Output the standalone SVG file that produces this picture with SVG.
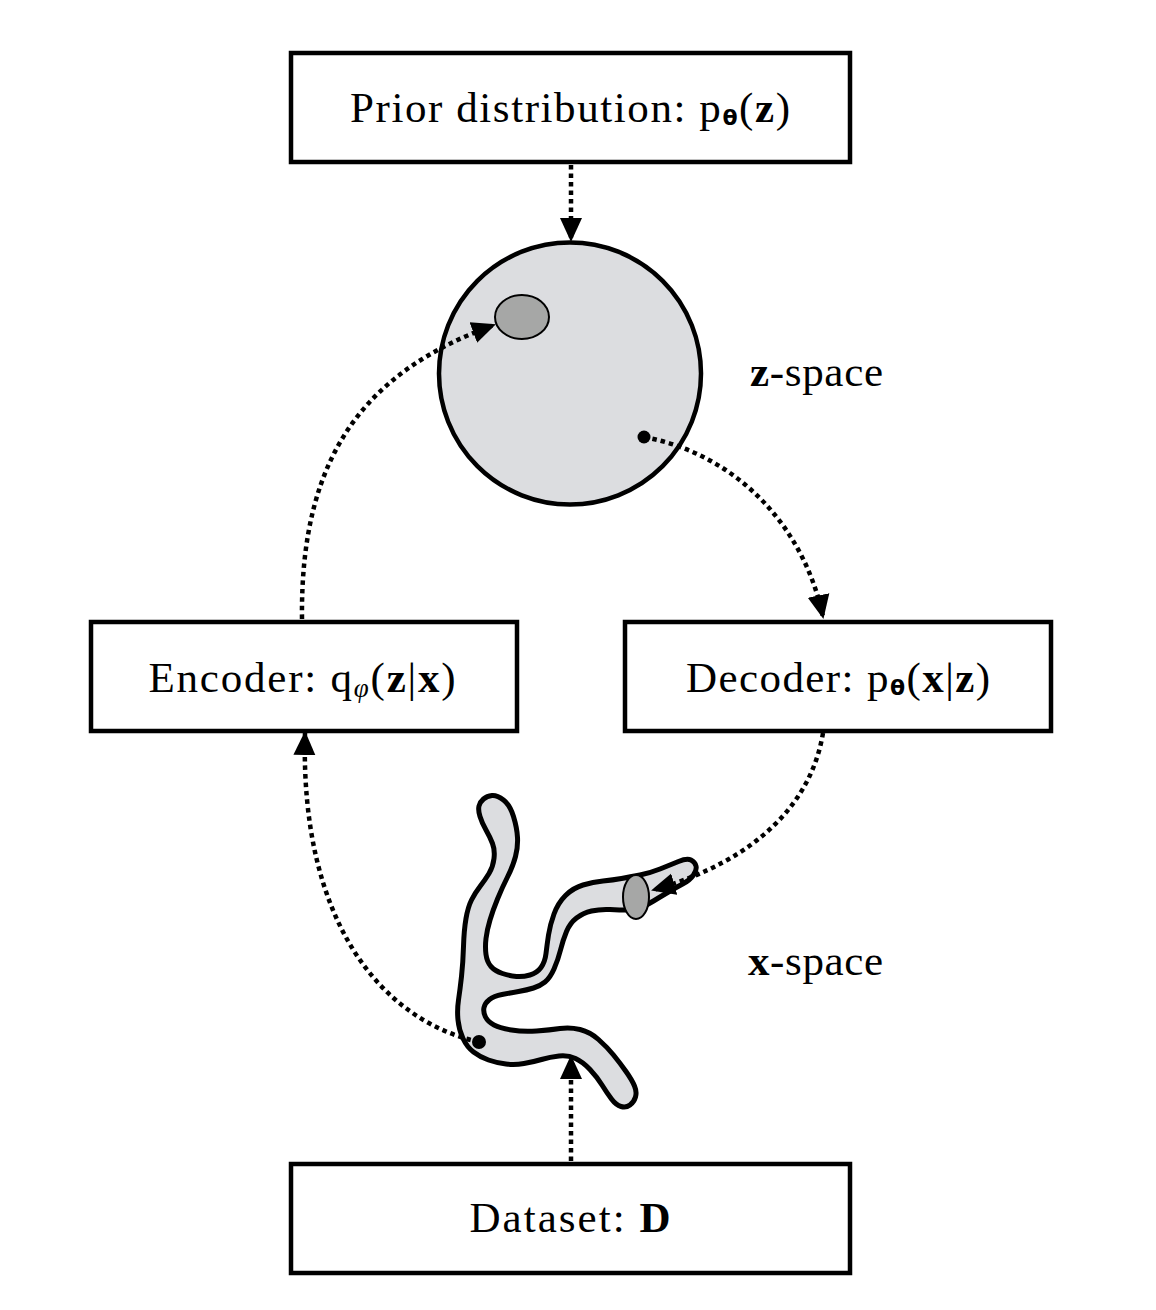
<svg xmlns="http://www.w3.org/2000/svg" width="1156" height="1310" viewBox="0 0 1156 1310">
<style>
.box{fill:#fff;stroke:#000;stroke-width:4.5}
.lbl{font-family:"Liberation Serif","DejaVu Serif",serif;font-size:43px;fill:#000}
.b{font-weight:bold}
.sub{font-family:"DejaVu Sans","Liberation Sans",sans-serif;font-weight:bold;font-size:22px}
.phi{font-family:"Liberation Serif","DejaVu Serif",serif;font-style:italic;font-size:27px}
.dot{fill:none;stroke:#000;stroke-width:4.5;stroke-dasharray:4.5 4;marker-end:url(#ah)}
</style>
<defs>
<marker id="ah" markerUnits="userSpaceOnUse" markerWidth="24" markerHeight="24" viewBox="0 0 24 24" refX="22" refY="12" orient="auto">
<path d="M0,1 L24,12 L0,23 z" fill="#000"/>
</marker>
</defs>
<rect width="1156" height="1310" fill="#fff"/>

<g id="prior">
<rect class="box" x="291" y="53" width="559" height="109"/>
<text class="lbl" x="570" y="122" text-anchor="middle" textLength="440">Prior distribution: p<tspan class="sub" dy="3">θ</tspan><tspan dy="-3">(</tspan><tspan class="b">z</tspan>)</text>
</g>

<g id="zspace">
<circle cx="570" cy="373.5" r="131" fill="#dcdde0" stroke="#000" stroke-width="4.5"/>
<ellipse cx="522" cy="317" rx="27" ry="22" fill="#a6a7a6" stroke="#000" stroke-width="2"/>
<circle cx="644" cy="437" r="6.5" fill="#000"/>
<text class="lbl" x="750" y="386" textLength="133"><tspan class="b">z</tspan>-space</text>
</g>

<g id="encoder">
<rect class="box" x="91" y="622" width="426" height="109"/>
<text class="lbl" x="302" y="692" text-anchor="middle" textLength="307">Encoder: q<tspan class="phi" dy="5">φ</tspan><tspan dy="-5">(</tspan><tspan class="b">z</tspan>|<tspan class="b">x</tspan>)</text>
</g>

<g id="decoder">
<rect class="box" x="625" y="622" width="426" height="109"/>
<text class="lbl" x="838" y="692" text-anchor="middle" textLength="304">Decoder: p<tspan class="sub" dy="3">θ</tspan><tspan dy="-3">(</tspan><tspan class="b">x</tspan>|<tspan class="b">z</tspan>)</text>
</g>

<g id="xspace">
<g id="worm">
<path fill="#dcdde0" stroke="#000" stroke-width="5" stroke-linejoin="round" d="M492,795.5 Q497,795 503.5,800 Q510,805 513.5,816.5 Q517,828 517.5,837.5 Q518,847 515.5,856.5 Q513,866 507.5,877 Q502,888 497.5,899 Q493,910 490,920 Q487,930 486,938.5 Q485,947 486,954.5 Q487,962 491,966.5 Q495,971 502.5,973.5 Q510,976 516.5,976.5 Q523,977 530,975 Q537,973 541,967.5 Q545,962 546,953.5 Q547,945 548.5,935 Q550,925 554,914 Q558,903 565.5,895.5 Q573,888 583,885 Q593,882 603,881 Q613,880 621.5,878.5 Q630,877 640,875 Q650,873 660,869 Q670,865 678.5,861.5 Q687,858 691,860 Q695,862 696,866 Q697,870 693.5,875 Q690,880 683.5,883.5 Q677,887 668.5,892 Q660,897 653.5,901 Q647,905 641,907.5 Q635,910 627.5,910 Q620,910 610,909.5 Q600,909 591.5,911 Q583,913 576.5,918 Q570,923 566.5,931.5 Q563,940 560.5,950 Q558,960 554,969 Q550,978 545,982 Q540,986 533.5,988 Q527,990 518.5,991.5 Q510,993 502,994.5 Q494,996 489.5,999.5 Q485,1003 484,1007.5 Q483,1012 485.5,1017 Q488,1022 494,1025 Q500,1028 511.5,1030 Q523,1032 536.5,1031 Q550,1030 560,1028.5 Q570,1027 580,1029.5 Q590,1032 598.5,1039.5 Q607,1047 613.5,1055 Q620,1063 626,1071.5 Q632,1080 634.5,1086 Q637,1092 635.5,1097 Q634,1102 630,1105 Q626,1108 621,1106.5 Q616,1105 611.5,1099 Q607,1093 602,1085 Q597,1077 590,1069.5 Q583,1062 575.5,1058.5 Q568,1055 559,1056 Q550,1057 541.5,1059.5 Q533,1062 524,1063.5 Q515,1065 506,1064 Q497,1063 488.5,1060 Q480,1057 473.5,1052 Q467,1047 463,1038.5 Q459,1030 458,1020 Q457,1010 458.5,1000 Q460,990 461.5,976.5 Q463,963 463.5,946.5 Q464,930 466,918.5 Q468,907 471.5,900 Q475,893 480,886.5 Q485,880 489,873.5 Q493,867 494,858.5 Q495,850 492.5,843.5 Q490,837 486,830 Q482,823 480,816.5 Q478,810 479,806 Q480,802 483.5,799 Q487,796 492,795.5 Z"/>
<ellipse cx="636" cy="897" rx="13" ry="22" fill="#a6a7a6" stroke="#000" stroke-width="2"/>
<circle cx="479" cy="1042" r="7" fill="#000"/>
</g>
<text class="lbl" x="748" y="975" textLength="135"><tspan class="b">x</tspan>-space</text>
</g>

<g id="dataset">
<rect class="box" x="291" y="1164" width="559" height="109"/>
<text class="lbl" x="570" y="1232" text-anchor="middle" textLength="201">Dataset: <tspan class="b">D</tspan></text>
</g>

<g id="connectors">
<path class="dot" d="M571,165 L571,240"/>
<path class="dot" d="M302,619 C300,450 370,370 494,325"/>
<path class="dot" d="M644,437 C740,455 805,530 823,617"/>
<path class="dot" d="M823,733 C812,800 760,860 653,890"/>
<path class="dot" d="M479,1042 C380,1020 300,920 305,733"/>
<path class="dot" d="M571,1161 L571,1057"/>
</g>
</svg>
